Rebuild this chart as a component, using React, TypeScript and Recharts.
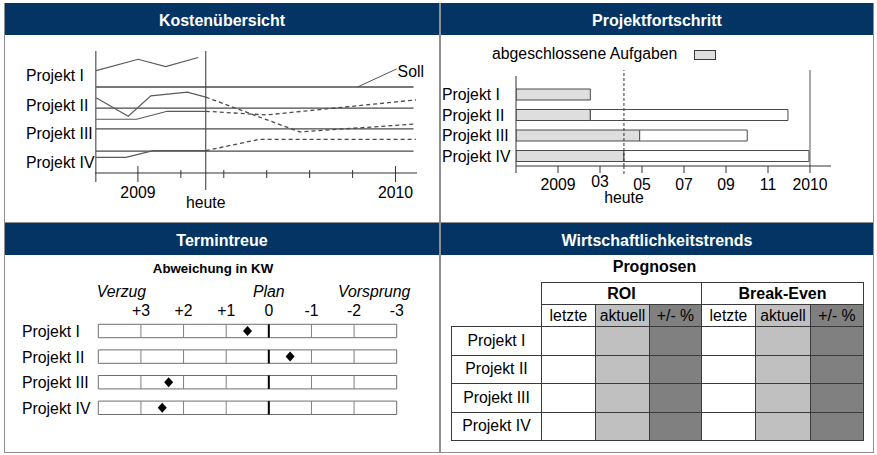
import React from 'react';
import {
  LineChart, Line, XAxis, YAxis, ReferenceLine, ReferenceDot,
  BarChart, Bar, ScatterChart, Scatter, ReferenceArea,
} from 'recharts';

const FONT = 'Arial, "Liberation Sans", sans-serif';
const NAVY = '#033464';
const FS = 15.8;

const projekte = ['Projekt I', 'Projekt II', 'Projekt III', 'Projekt IV'];

// --- Kostenübersicht (x = Monate ab Jan 2009) ---
const kostenLabelPos = [4.56, 3.16, 1.86, 0.47];
const sollWerte = [4.0, 3.02, 2.05, 1.02];
const sollBis = 12.84;
const heuteMonat = 3.16;
const kostenTicks = [0, 2, heuteMonat, 4, 6, 8, 10, 12];
const kostenJahre: Record<number, string> = { 0: '2009', 12: '2010' };

const istI = [{ m: -1.95, v: 4.76 }, { m: 0.01, v: 5.29 }, { m: 1.29, v: 4.95 }, { m: 2.81, v: 5.37 }];
const istII = [{ m: -1.95, v: 3.5 }, { m: -0.45, v: 2.64 }, { m: 0.6, v: 3.59 }, { m: 2.3, v: 3.76 }, { m: 3.16, v: 3.53 }];
const progII = [{ m: 3.16, v: 3.53 }, { m: 7.53, v: 1.91 }, { m: 12.95, v: 2.28 }];
const istIII = [{ m: -1.95, v: 2.5 }, { m: -0.06, v: 2.5 }, { m: 1.36, v: 2.87 }, { m: 3.16, v: 2.87 }];
const progIII = [{ m: 3.16, v: 2.87 }, { m: 5.98, v: 2.7 }, { m: 12.95, v: 3.4 }];
const istIV = [{ m: -1.95, v: 0.73 }, { m: -0.56, v: 0.73 }, { m: 0.71, v: 1.04 }, { m: 3.16, v: 1.04 }];
const progIV = [{ m: 3.16, v: 1.04 }, { m: 5.63, v: 1.56 }, { m: 12.95, v: 1.56 }];
const istReihen = [istI, istII, istIII, istIV];
const progReihen = [progII, progIII, progIV];

// --- Projektfortschritt (x = Monate ab Nov 2008) ---
const erledigt = [3.54, 3.54, 5.89, 5.14];
const ende = [3.54, 12.95, 11.01, 13.95];
const heuteFort = 5.14;
const fortTicks = [0, 2, 4, heuteFort, 6, 8, 10, 12, 14];
const fortTickLabels: Record<number, string> = { 2: '2009', 4: '03', 6: '05', 8: '07', 10: '09', 12: '11', 14: '2010' };

// --- Termintreue (Abweichung in KW) ---
const abweichung = [0.5, -0.5, 2.35, 2.5];
const kwTicks = [3, 2, 1, 0, -1, -2, -3];
const kwTeiler = [3, 2, 1, 0, -1, -2];

// --- Wirtschaftlichkeitstrends ---
const gruppen = ['ROI', 'Break-Even'];
const spalten = ['letzte', 'aktuell', '+/- %'];
const spaltenFarben = ['#ffffff', '#c0c0c0', '#808080'];

const txt = { fontFamily: FONT, fontSize: FS, fill: '#000' };

const KostenLabel = (p: any) => (
  <text x={26} y={p.y + 5.6} {...txt}>{projekte[p.index]}</text>
);

const KostenTick = (p: any) => {
  const { x, y, payload } = p;
  const v = payload.value;
  if (v === heuteMonat) {
    return <text x={x} y={y + 35} textAnchor="middle" {...txt}>heute</text>;
  }
  const major = kostenJahre[v] !== undefined;
  return (
    <g>
      <line x1={x} x2={x} y1={y - (major ? 7 : 3)} y2={y + (major ? 9 : 5)} stroke="#333" />
      {major && <text x={x} y={y + 25} textAnchor="middle" {...txt}>{kostenJahre[v]}</text>}
    </g>
  );
};

const FortLabel = (p: any) => (
  <text x={2} y={p.y + 6} {...txt}>{p.payload.value}</text>
);

const FortTick = (p: any) => {
  const { x, y, payload } = p;
  const v = payload.value;
  if (v === 0) return <line x1={x} x2={x} y1={y - 90} y2={y + 7} stroke="#333" />;
  if (v === heuteFort) {
    return (
      <g>
        <line x1={x} x2={x} y1={y} y2={y + 10} stroke="#333" strokeDasharray="3 2" />
        <text x={x} y={y + 37} textAnchor="middle" {...txt}>heute</text>
      </g>
    );
  }
  return (
    <g>
      <line x1={x} x2={x} y1={y} y2={y + 7} stroke="#333" />
      <text x={x} y={y + (v === 4 ? 21 : 24)} textAnchor="middle" {...txt}>{fortTickLabels[v]}</text>
    </g>
  );
};

const KwTick = (p: any) => {
  const v = p.payload.value;
  return <text x={p.x} y={p.y - 2} textAnchor="middle" {...txt}>{v > 0 ? `+${v}` : `${v}`}</text>;
};

const TermLabel = (p: any) => (
  <text x={22} y={p.y + 6} {...txt}>{projekte[p.index]}</text>
);

const Diamond = (p: any) => (
  <path d={`M${p.cx},${p.cy - 5} L${p.cx + 4.5},${p.cy} L${p.cx},${p.cy + 5} L${p.cx - 4.5},${p.cy} Z`} fill="#000" />
);

const Header = ({ left, top, width, title }: { left: number; top: number; width: number; title: string }) => (
  <div style={{
    position: 'absolute', left, top, width, height: 32, background: NAVY, color: '#fff',
    fontWeight: 'bold', fontSize: 16, textAlign: 'center', lineHeight: '35px', fontFamily: FONT,
  }}>{title}</div>
);

const Box = ({ left, top, width, height }: { left: number; top: number; width: number; height: number }) => (
  <div style={{ position: 'absolute', left, top, width, height, border: '1px solid #8f8f8f', boxSizing: 'border-box' }} />
);

export default function App() {
  const fortData = projekte.map((p, i) => ({ projekt: p, erledigt: erledigt[i], offen: ende[i] - erledigt[i] }));
  const termData = projekte.map((p, i) => ({ x: abweichung[i], y: i + 1 }));

  const colX = [541, 595, 649, 701, 755, 810, 863];
  const rowY = [326, 354.5, 383, 411.5, 440];

  const cell = (key: string, left: number, top: number, w: number, h: number, bg: string, content: string, bold = false) => (
    <div key={key} style={{
      position: 'absolute', left, top, width: w + 1, height: h + 1, boxSizing: 'border-box',
      border: '1px solid #3a3a3a', background: bg, fontFamily: FONT, fontSize: bold ? 16 : FS,
      fontWeight: bold ? 'bold' : 'normal', display: 'flex', alignItems: 'center', justifyContent: 'center',
    }}>{content}</div>
  );

  return (
    <div style={{ position: 'absolute', left: 0, top: 0, width: 877, height: 455, background: '#fff', fontFamily: FONT }}>
      <Box left={4} top={3} width={436} height={220} />
      <Box left={440} top={3} width={434} height={220} />
      <Box left={4} top={222} width={436} height={231} />
      <Box left={440} top={222} width={434} height={231} />
      <Header left={5} top={3} width={434} title="Kostenübersicht" />
      <Header left={441} top={3} width={432} title="Projektfortschritt" />
      <Header left={5} top={223} width={434} title="Termintreue" />
      <Header left={441} top={223} width={432} title="Wirtschaftlichkeitstrends" />

      {/* Kostenübersicht */}
      <div style={{ position: 'absolute', left: 0, top: 35 }}>
        <LineChart width={440} height={187} margin={{ top: 16, right: 23, left: 0, bottom: 0 }}>
          <XAxis dataKey="m" type="number" domain={[-2, 13]} allowDataOverflow ticks={kostenTicks} interval={0}
            tick={KostenTick} tickLine={false} tickSize={0} tickMargin={0} height={49} axisLine={{ stroke: '#333' }} />
          <YAxis type="number" domain={[0, 5.674]} allowDataOverflow ticks={kostenLabelPos} interval={0}
            tick={KostenLabel} tickLine={false} tickSize={0} tickMargin={0} width={95} axisLine={false} />
          <ReferenceLine segment={[{ x: -1.96, y: 5.674 }, { x: -1.96, y: -0.42 }]} stroke="#333" ifOverflow="visible" />
          <ReferenceLine segment={[{ x: heuteMonat, y: 5.674 }, { x: heuteMonat, y: -0.79 }]} stroke="#333" ifOverflow="visible" />
          {sollWerte.map((v, i) => (
            <ReferenceLine key={`soll${i}`} segment={[{ x: -1.95, y: v }, { x: sollBis, y: v }]} stroke="#4a4a4a" strokeWidth={1.3} />
          ))}
          <ReferenceLine segment={[{ x: 10.23, y: 4.0 }, { x: 12.05, y: 4.84 }]} stroke="#555" />
          <ReferenceDot x={12.05} y={4.74} r={0} shape={(p: any) => (
            <text x={p.cx + 1} y={p.cy + 5.6} {...txt}>Soll</text>
          )} />
          {istReihen.map((d, i) => (
            <Line key={`ist${i}`} data={d} dataKey="v" type="linear" dot={false} stroke="#5a5a5a" strokeWidth={1.2} isAnimationActive={false} />
          ))}
          {progReihen.map((d, i) => (
            <Line key={`prog${i}`} data={d} dataKey="v" type="linear" dot={false} stroke="#4a4a4a" strokeWidth={1.3} strokeDasharray="4 3" isAnimationActive={false} />
          ))}
        </LineChart>
      </div>

      {/* Projektfortschritt */}
      <div style={{ position: 'absolute', left: 440, top: 35 }}>
        <BarChart layout="vertical" width={434} height={187} data={fortData} barSize={11}
          margin={{ top: 35, right: 43, left: 0, bottom: 0 }}>
          <XAxis type="number" domain={[0, 15]} allowDataOverflow ticks={fortTicks} interval={0} tick={FortTick}
            tickLine={false} tickSize={0} tickMargin={0} height={56} axisLine={{ stroke: '#333' }} />
          <YAxis type="category" dataKey="projekt" width={76} axisLine={false} tickLine={false} tickSize={0}
            tickMargin={0} tick={FortLabel} interval={0} padding={{ top: 14, bottom: 0 }} />
          <ReferenceLine x={14} stroke="#555" />
          <ReferenceLine x={heuteFort} stroke="#333" strokeDasharray="3 2" />
          <Bar dataKey="erledigt" stackId="a" fill="#dedede" stroke="#4a4a4a" isAnimationActive={false} />
          <Bar dataKey="offen" stackId="a" fill="#ffffff" stroke="#4a4a4a" isAnimationActive={false} />
        </BarChart>
      </div>

      {/* Termintreue */}
      <div style={{ position: 'absolute', left: 0, top: 255 }}>
        <ScatterChart width={440} height={198} margin={{ top: 43.2, right: 43.3, left: 0, bottom: 32.4 }}>
          <XAxis type="number" dataKey="x" orientation="top" domain={[-3, 4]} reversed ticks={kwTicks} interval={0}
            tick={KwTick} tickLine={false} tickSize={0} tickMargin={0} axisLine={false} height={20} />
          <YAxis type="number" dataKey="y" domain={[0.5, 4.5]} reversed ticks={[1, 2, 3, 4]} interval={0}
            tick={TermLabel} tickLine={false} tickSize={0} tickMargin={0} axisLine={false} width={98.3} />
          {projekte.map((p, i) => (
            <ReferenceArea key={`box${i}`} x1={4} x2={-3} y1={i + 1 - 0.262} y2={i + 1 + 0.262}
              fill="#fff" fillOpacity={1} stroke="#6e6e6e" />
          ))}
          {projekte.flatMap((p, i) => kwTeiler.map((d) => (
            <ReferenceLine key={`t${i}_${d}`} segment={[{ x: d, y: i + 1 - 0.262 }, { x: d, y: i + 1 + 0.262 }]}
              stroke={d === 0 ? '#000' : '#808080'} strokeWidth={d === 0 ? 2 : 1} />
          )))}
          <Scatter data={termData} shape={Diamond} isAnimationActive={false} />
        </ScatterChart>
      </div>

      {/* Wirtschaftlichkeitstrends */}
      {gruppen.map((g, gi) => cell(`g${gi}`, colX[gi * 3], 282, colX[gi * 3 + 3] - colX[gi * 3], 22, '#fff', g, true))}
      {gruppen.flatMap((g, gi) => spalten.map((s, si) => {
        const c = gi * 3 + si;
        return cell(`s${c}`, colX[c], 304, colX[c + 1] - colX[c], 22, spaltenFarben[si], s);
      }))}
      {projekte.map((p, ri) => cell(`r${ri}`, 451, rowY[ri], 90, rowY[ri + 1] - rowY[ri], '#fff', p))}
      {projekte.flatMap((p, ri) => colX.slice(0, 6).map((x, c) =>
        cell(`c${ri}_${c}`, x, rowY[ri], colX[c + 1] - x, rowY[ri + 1] - rowY[ri], spaltenFarben[c % 3], '')))}

      <svg width={877} height={455} style={{ position: 'absolute', left: 0, top: 0, pointerEvents: 'none' }}>
        <text x={492} y={59.3} {...txt}>abgeschlossene Aufgaben</text>
        <rect x={694.5} y={50.5} width={21} height={9} fill="#dedede" stroke="#3a3a3a" />
        <text x={213} y={272.5} textAnchor="middle" fontFamily={FONT} fontSize={13.3} fontWeight="bold">Abweichung in KW</text>
        <text x={96.7} y={297} fontStyle="italic" {...txt}>Verzug</text>
        <text x={253} y={297} fontStyle="italic" {...txt}>Plan</text>
        <text x={338} y={297} fontStyle="italic" {...txt}>Vorsprung</text>
        <text x={654.5} y={271.5} textAnchor="middle" fontFamily={FONT} fontSize={16} fontWeight="bold">Prognosen</text>
      </svg>
    </div>
  );
}
